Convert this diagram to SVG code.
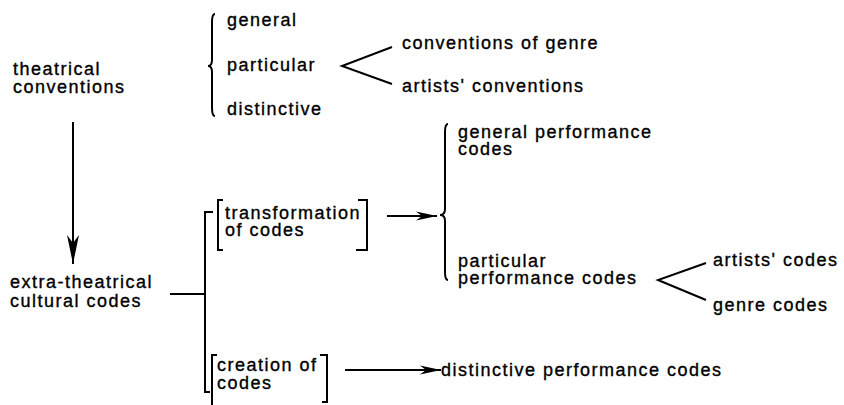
<svg xmlns="http://www.w3.org/2000/svg" width="844" height="405" viewBox="0 0 844 405">
<defs>
<marker id="ah" markerWidth="22" markerHeight="10" refX="21" refY="5" orient="auto" markerUnits="userSpaceOnUse">
<path d="M0,0.5 L21,5 L0,9.5 L6,5 Z" fill="#000"/>
</marker>
<marker id="ahv" markerWidth="30" markerHeight="14" refX="29" refY="7" orient="auto" markerUnits="userSpaceOnUse">
<path d="M0,1 L29,7 L0,13 L8,7 Z" fill="#000"/>
</marker>
<style>
text{font-family:"Liberation Sans",Arial,sans-serif;font-size:18px;letter-spacing:1.5px;fill:#000;stroke:#000;stroke-width:0.35px}
.ln{fill:none;stroke:#000;stroke-width:2}
</style>
</defs>
<rect width="844" height="405" fill="#fff"/>
<g id="theatrical-conventions"><text x="13" y="75">theatrical</text><text x="13" y="93">conventions</text></g>
<g id="general"><text x="227" y="26">general</text></g>
<g id="particular"><text x="227" y="71">particular</text></g>
<g id="distinctive"><text x="227" y="115">distinctive</text></g>
<g id="conventions-of-genre"><text x="402" y="49">conventions of genre</text></g>
<g id="artists-conventions"><text x="402" y="92">artists' conventions</text></g>
<g id="extra-theatrical"><text x="10" y="288">extra-theatrical</text><text x="10" y="307">cultural codes</text></g>
<g id="transformation"><path class="ln" d="M223,200 L218,200 L218,250 L223,250 M358,200 L367,200 L367,250 L356,250"/><text x="225" y="219">transformation</text><text x="225" y="236">of codes</text></g>
<g id="creation"><path class="ln" d="M217,355 L212,355 L212,405 M320,355 L327,355 L327,402 L322,402"/><text x="217" y="371">creation of</text><text x="217" y="389">codes</text></g>
<g id="general-performance"><text x="458" y="138">general performance</text><text x="458" y="155">codes</text></g>
<g id="particular-performance"><text x="458" y="267">particular</text><text x="458" y="284">performance codes</text></g>
<g id="artists-codes"><text x="713" y="266">artists' codes</text></g>
<g id="genre-codes"><text x="713" y="311">genre codes</text></g>
<g id="distinctive-performance"><text x="441" y="376">distinctive performance codes</text></g>
<g id="connectors">
<path class="ln" d="M215,14 Q212,14 212,22 L212,60 Q212,66 208,66 Q212,66 212,72 L212,108 Q212,116 215,116"/>
<path class="ln" d="M392,47 L342,66 L392,84"/>
<path class="ln" d="M73,122 L73,264" marker-end="url(#ahv)"/>
<path class="ln" d="M170,294 L205,294"/>
<path class="ln" d="M213,212 L205,212 L205,392 L210,392"/>
<path class="ln" d="M387,216 L437,216" marker-end="url(#ah)"/>
<path class="ln" d="M448,124 Q445,124 445,132 L445,209 Q445,215 440,215 Q445,215 445,221 L445,272 Q445,280 448,280"/>
<path class="ln" d="M706,263 L658,280 L706,300"/>
<path class="ln" d="M345,370 L441,370" marker-end="url(#ah)"/>
</g>
</svg>
